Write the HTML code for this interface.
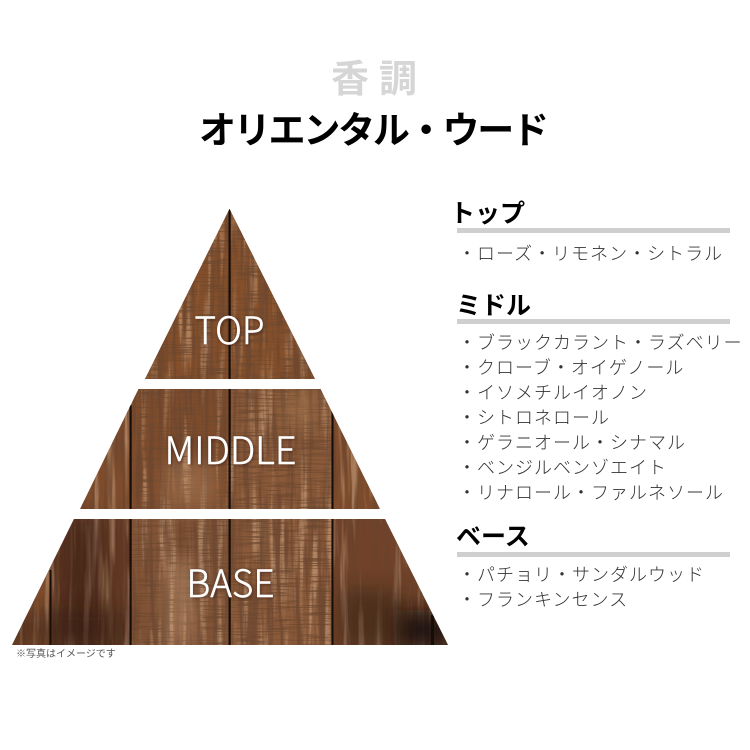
<!DOCTYPE html>
<html lang="ja"><head><meta charset="utf-8"><style>
html,body{margin:0;padding:0;background:#fff;width:750px;height:750px;overflow:hidden}
svg{display:block}
.jp{font-family:"Liberation Sans","Noto Sans CJK JP",sans-serif}
.li{font-size:18px;font-weight:300;fill:#333;letter-spacing:1px}
.h{font-size:25px;font-weight:700;fill:#000}
.en{font-family:"Noto Sans CJK JP","Liberation Sans",sans-serif;font-weight:300;font-size:38px;fill:#fff;stroke:#fff;stroke-width:.5px;filter:url(#ts)}
</style></head><body>
<svg width="750" height="750" viewBox="0 0 750 750" xmlns="http://www.w3.org/2000/svg">
<defs>
<filter id="grain" x="0" y="0" width="100%" height="100%"><feTurbulence type="fractalNoise" baseFrequency="0.22 0.012" numOctaves="3" seed="7"/><feColorMatrix values="0 0 0 0 0.14  0 0 0 0 0.06  0 0 0 0 0.03  5 0 0 0 -2.3"/></filter>
<filter id="light" x="0" y="0" width="100%" height="100%"><feTurbulence type="fractalNoise" baseFrequency="0.12 0.008" numOctaves="3" seed="21"/><feColorMatrix values="0 0 0 0 0.82  0 0 0 0 0.58  0 0 0 0 0.38  5 0 0 0 -2.5"/></filter>
<filter id="cross" x="0" y="0" width="100%" height="100%"><feTurbulence type="fractalNoise" baseFrequency="0.03 0.7" numOctaves="2" seed="3"/><feColorMatrix values="0 0 0 0 0.16  0 0 0 0 0.07  0 0 0 0 0.03  6 0 0 0 -2.9"/></filter>
<filter id="blur8" x="-60%" y="-60%" width="220%" height="220%"><feGaussianBlur stdDeviation="10"/></filter>
<filter id="ts" x="-20%" y="-20%" width="140%" height="140%"><feDropShadow dx="1" dy="1" stdDeviation="1.5" flood-color="#2a1408" flood-opacity=".55"/></filter>
<clipPath id="pyr"><polygon points="229.5,209 315,379 145,379"/><polygon points="138.5,389 320.5,389 380,509 80,509"/><polygon points="74,519 385,519 448,645 12,645"/></clipPath>
</defs>
<g clip-path="url(#pyr)">
<rect x="0" y="200" width="460" height="450" fill="#7e4c2c"/>
<rect x="145" y="209" width="170" height="170" fill="#8a5229" opacity=".6"/>
<rect x="131" y="519" width="98" height="126" fill="#85583c" opacity=".7"/>
<rect x="231" y="389" width="100" height="256" fill="#8f5f3f" opacity=".7"/>
<rect x="52" y="519" width="78" height="126" fill="#5a3322" opacity=".8"/>
<rect x="333" y="519" width="100" height="126" fill="#6a3f28" opacity=".7"/>
<rect x="0" y="200" width="460" height="450" filter="url(#light)" opacity=".4"/>
<rect x="130" y="200" width="202" height="450" filter="url(#cross)" opacity=".75"/>
<rect x="0" y="200" width="460" height="450" filter="url(#grain)" opacity=".65"/>
<rect x="62" y="519" width="40" height="126" fill="#2e170e" opacity=".45" filter="url(#blur8)"/>
<rect x="0" y="610" width="130" height="40" fill="#2a150c" opacity=".4" filter="url(#blur8)"/>
<rect x="395" y="610" width="60" height="40" fill="#140b07" opacity=".85" filter="url(#blur8)"/>
<rect x="340" y="590" width="60" height="60" fill="#2e1a10" opacity=".5" filter="url(#blur8)"/>
<rect x="165" y="460" width="50" height="50" fill="#c8986f" opacity=".35" filter="url(#blur8)"/>
<rect x="168" y="560" width="24" height="85" fill="#d0a680" opacity=".45" filter="url(#blur8)"/>
<rect x="285" y="390" width="30" height="40" fill="#c89a6a" opacity=".3" filter="url(#blur8)"/>
<g fill="#170d08">
<rect x="228.500" y="205" width="2.200" height="440"/>
<rect x="129.500" y="405" width="2.200" height="240"/>
<rect x="331.500" y="405" width="2" height="240"/>
<rect x="49.500" y="570" width="2" height="80"/>
<rect x="431" y="615" width="3" height="35"/>
</g>
</g>
<text x="229.500" y="344" text-anchor="middle" class="en" textLength="70" lengthAdjust="spacingAndGlyphs">TOP</text>
<text x="230.500" y="464" text-anchor="middle" class="en" textLength="132" lengthAdjust="spacingAndGlyphs">MIDDLE</text>
<text x="230.500" y="597" text-anchor="middle" class="en" textLength="88" lengthAdjust="spacingAndGlyphs">BASE</text>

<text x="331" y="92" class="jp" font-size="38" font-weight="700" fill="#d6d6d6" letter-spacing="10">香調</text>
<text x="199" y="143" class="jp" font-size="37" font-weight="700" fill="#000" textLength="350" lengthAdjust="spacing">オリエンタル・ウード</text>

<text x="450" y="222" class="jp h">トップ</text>
<rect x="457" y="228" width="273" height="5" fill="#cfcfcf"/>
<text x="458" y="260" class="jp li">・ローズ・リモネン・シトラル</text>

<text x="456" y="314" class="jp h">ミドル</text>
<rect x="457" y="319" width="273" height="5" fill="#cfcfcf"/>
<text x="458" y="349" class="jp li">・ブラックカラント・ラズベリー</text>
<text x="458" y="374" class="jp li">・クローブ・オイゲノール</text>
<text x="458" y="399" class="jp li">・イソメチルイオノン</text>
<text x="458" y="424" class="jp li">・シトロネロール</text>
<text x="458" y="449" class="jp li">・ゲラニオール・シナマル</text>
<text x="458" y="474" class="jp li">・ベンジルベンゾエイト</text>
<text x="458" y="499" class="jp li">・リナロール・ファルネソール</text>

<text x="456" y="545" class="jp h">ベース</text>
<rect x="457" y="552" width="273" height="5" fill="#cfcfcf"/>
<text x="458" y="581" class="jp li">・パチョリ・サンダルウッド</text>
<text x="458" y="606" class="jp li">・フランキンセンス</text>

<text x="16" y="657" class="jp" font-size="10" fill="#555">※写真はイメージです</text>
</svg>
</body></html>
